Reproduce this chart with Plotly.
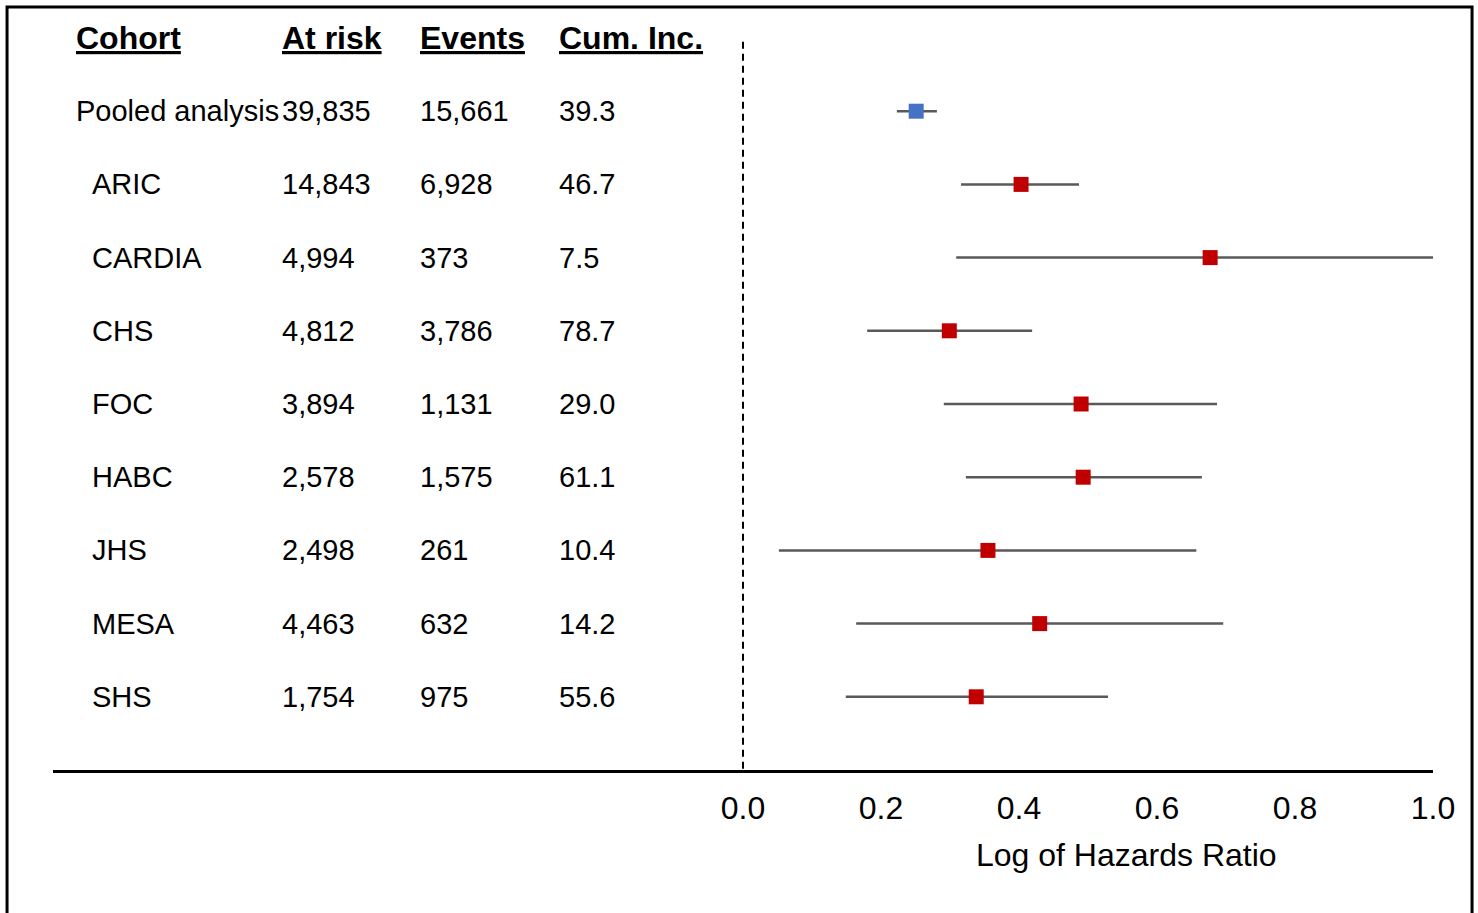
import plotly.graph_objects as go

# ---- data ----
cohorts = ["Pooled analysis", "ARIC", "CARDIA", "CHS", "FOC", "HABC", "JHS", "MESA", "SHS"]
at_risk = ["39,835", "14,843", "4,994", "4,812", "3,894", "2,578", "2,498", "4,463", "1,754"]
events = ["15,661", "6,928", "373", "3,786", "1,131", "1,575", "261", "632", "975"]
cum_inc = ["39.3", "46.7", "7.5", "78.7", "29.0", "61.1", "10.4", "14.2", "55.6"]
log_hr = [0.251, 0.403, 0.677, 0.299, 0.490, 0.493, 0.355, 0.430, 0.338]
ci_low = [0.223, 0.316, 0.309, 0.180, 0.291, 0.323, 0.052, 0.164, 0.149]
ci_high = [0.281, 0.487, 1.000, 0.419, 0.687, 0.665, 0.657, 0.696, 0.529]
headers = ["Cohort", "At risk", "Events", "Cum. Inc."]
tick_vals = [0.0, 0.2, 0.4, 0.6, 0.8, 1.0]
tick_text = ["0.0", "0.2", "0.4", "0.6", "0.8", "1.0"]

FONT = "Liberation Sans, Arial, sans-serif"
rows = list(range(len(cohorts)))

fig = go.Figure()

# error bars (drawn with library error_x)
err_plus = [h - v for h, v in zip(ci_high, log_hr)]
err_minus = [v - l for v, l in zip(log_hr, ci_low)]
colors = ["#4472C4"] + ["#C00000"] * (len(cohorts) - 1)

fig.add_trace(go.Scatter(
    x=log_hr, y=rows, mode="markers",
    marker=dict(symbol="square", size=15, color=colors, line=dict(width=0)),
    error_x=dict(type="data", symmetric=False, array=err_plus, arrayminus=err_minus,
                 color="#595959", thickness=2.5, width=0),
    showlegend=False, hoverinfo="skip", cliponaxis=False,
))

# table columns (x positions in axis units)
col_x = [-0.9695, -0.6715, -0.4715, -0.2695]
indent_x = -0.9465

annotations = []
for hx, h in zip(col_x, headers):
    annotations.append(dict(x=hx, y=-1, xref="x", yref="y", text=f"<b><u>{h}</u></b>",
                            showarrow=False, xanchor="left", yanchor="middle",
                            font=dict(family=FONT, size=32, color="black")))
for i in rows:
    name_x = col_x[0] if i == 0 else indent_x
    for xx, txt in zip([name_x, col_x[1], col_x[2], col_x[3]],
                       [cohorts[i], at_risk[i], events[i], cum_inc[i]]):
        annotations.append(dict(x=xx, y=i, xref="x", yref="y", text=txt,
                                showarrow=False, xanchor="left", yanchor="middle",
                                font=dict(family=FONT, size=29, color="black")))

annotations.append(dict(x=0.5565, y=-0.116, xref="x", yref="paper", text="Log of Hazards Ratio",
                        showarrow=False, xanchor="center", yanchor="middle",
                        font=dict(family=FONT, size=32, color="black")))

shapes = [
    dict(type="line", x0=0, x1=0, y0=-0.95, y1=9, xref="x", yref="y",
         line=dict(color="black", width=2, dash="7px,5px"), layer="below"),
    dict(type="rect", x0=-0.0333, x1=1.0283, y0=-0.25, y1=1.0423, xref="paper", yref="paper",
         line=dict(color="black", width=3), fillcolor="rgba(0,0,0,0)"),
]

fig.update_layout(
    width=1478, height=913,
    margin=dict(l=53, r=45, t=38, b=143),
    paper_bgcolor="white", plot_bgcolor="white",
    annotations=annotations, shapes=shapes,
    xaxis=dict(range=[-1, 1], tickvals=tick_vals, ticktext=tick_text,
               showgrid=False, zeroline=False, showline=True, linecolor="black", linewidth=3,
               ticks="", ticklabelstandoff=8,
               tickfont=dict(family=FONT, size=32, color="black")),
    yaxis=dict(range=[9, -1], visible=False, showgrid=False, zeroline=False),
)

fig.write_html("out.html")
